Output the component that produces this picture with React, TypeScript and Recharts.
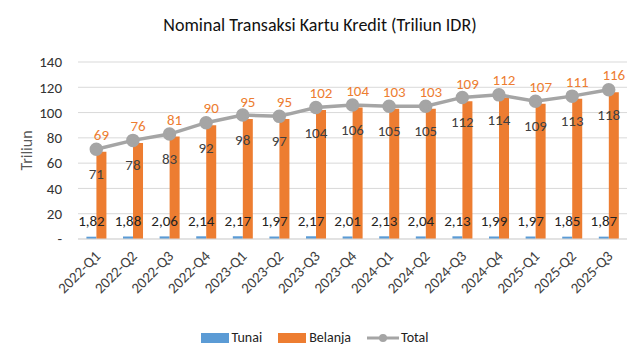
import { ComposedChart, Bar, Line, XAxis, YAxis, CartesianGrid, Legend, LabelList } from "recharts";

const quarters = [
  "2022-Q1", "2022-Q2", "2022-Q3", "2022-Q4",
  "2023-Q1", "2023-Q2", "2023-Q3", "2023-Q4",
  "2024-Q1", "2024-Q2", "2024-Q3", "2024-Q4",
  "2025-Q1", "2025-Q2", "2025-Q3",
];
const tunai = [1.82, 1.88, 2.06, 2.14, 2.17, 1.97, 2.17, 2.01, 2.13, 2.04, 2.13, 1.99, 1.97, 1.85, 1.87];
const belanja = [69, 76, 81, 90, 95, 95, 102, 104, 103, 103, 109, 112, 107, 111, 116];
const total = [71, 78, 83, 92, 98, 97, 104, 106, 105, 105, 112, 114, 109, 113, 118];
const yTicks = [0, 20, 40, 60, 80, 100, 120, 140];

const data = quarters.map((q, i) => ({
  quarter: q,
  tunai: tunai[i],
  belanja: belanja[i],
  total: total[i],
}));

const FONT = "Carlito, 'Open Sans', sans-serif";
const BLUE = "#5B9BD5";
const ORANGE = "#ED7D31";
const GREY = "#A5A5A5";

function XTick({ x, y, payload }: any) {
  return (
    <text
      x={x + 5}
      y={y + 10}
      textAnchor="end"
      transform={`rotate(-45, ${x + 5}, ${y + 10})`}
      fontSize={15}
      fill="#404040"
      fontFamily={FONT}
    >
      {payload.value}
    </text>
  );
}

function TunaiLabel({ x, y, width, value, viewBox }: any) {
  const baseY = viewBox ? viewBox.y + viewBox.height : y;
  return (
    <text x={x + width / 2} y={baseY - 13} textAnchor="middle" fontSize={15} fill="#222" fontFamily={FONT}>
      {Number(value).toFixed(2).replace(".", ",")}
    </text>
  );
}

function BelanjaLabel({ x, y, width, value }: any) {
  return (
    <text x={x + width / 2} y={y - 12} textAnchor="middle" fontSize={15} fill={ORANGE} fontFamily={FONT}>
      {value}
    </text>
  );
}

function TotalLabel({ x, y, value }: any) {
  return (
    <text x={x} y={y + 30} textAnchor="middle" fontSize={15} fill="#404040" fontFamily={FONT}>
      {value}
    </text>
  );
}

function LegendBox() {
  const item = { display: "flex", alignItems: "center", marginRight: 16 } as const;
  return (
    <div style={{ display: "flex", justifyContent: "center", fontFamily: FONT, fontSize: 14, color: "#222" }}>
      <div style={item}>
        <span style={{ width: 28, height: 10, background: BLUE, marginRight: 3 }} />
        Tunai
      </div>
      <div style={item}>
        <span style={{ width: 28, height: 10, background: ORANGE, marginRight: 3 }} />
        Belanja
      </div>
      <div style={item}>
        <svg width={32} height={12} style={{ marginRight: 2 }}>
          <line x1={0} y1={6} x2={32} y2={6} stroke={GREY} strokeWidth={3} />
          <circle cx={16} cy={6} r={4} fill={GREY} />
        </svg>
        Total
      </div>
    </div>
  );
}

export default function App() {
  return (
    <div style={{ position: "fixed", left: 0, top: 0, width: 640, height: 360, background: "#fff" }}>
      <div
        style={{
          position: "absolute",
          top: 14,
          width: 640,
          textAlign: "center",
          fontFamily: FONT,
          fontSize: 18,
          color: "#111",
        }}
      >
        Nominal Transaksi Kartu Kredit (Triliun IDR)
      </div>
      <ComposedChart
        width={640}
        height={360}
        data={data}
        margin={{ top: 62, right: 13, bottom: 0, left: 18 }}
        barGap={0}
        barCategoryGap="23%"
      >
        <CartesianGrid vertical={false} stroke="#D9D9D9" />
        <XAxis
          dataKey="quarter"
          tick={<XTick />}
          tickLine={false}
          axisLine={{ stroke: "#D9D9D9" }}
          interval={0}
          height={104}
        />
        <YAxis
          domain={[0, 140]}
          ticks={yTicks}
          tickFormatter={(v: number) => (v === 0 ? "-" : String(v))}
          tick={{ fontSize: 15, fill: "#333", fontFamily: FONT }}
          tickLine={false}
          axisLine={false}
          tickMargin={10}
          width={60}
          label={{
            value: "Triliun",
            angle: -90,
            position: "insideLeft",
            offset: 8,
            style: { fontSize: 16, fill: "#595959", fontFamily: FONT, textAnchor: "middle" },
          }}
        />
        <Legend content={<LegendBox />} verticalAlign="bottom" wrapperStyle={{ bottom: 14 }} />
        <Bar dataKey="tunai" name="Tunai" fill={BLUE} isAnimationActive={false}>
          <LabelList dataKey="tunai" content={<TunaiLabel />} />
        </Bar>
        <Bar dataKey="belanja" name="Belanja" fill={ORANGE} isAnimationActive={false}>
          <LabelList dataKey="belanja" content={<BelanjaLabel />} />
        </Bar>
        <Line
          dataKey="total"
          name="Total"
          stroke={GREY}
          strokeWidth={3.5}
          dot={{ r: 5, fill: GREY, stroke: GREY }}
          isAnimationActive={false}
        >
          <LabelList dataKey="total" content={<TotalLabel />} />
        </Line>
      </ComposedChart>
    </div>
  );
}
